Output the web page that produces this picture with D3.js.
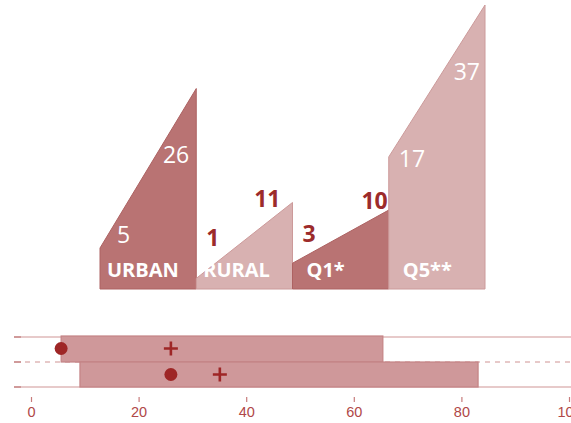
<!DOCTYPE html>
<html><head><meta charset="utf-8">
<script src="https://cdn.jsdelivr.net/npm/d3@7"></script>
<style>html,body{margin:0;padding:0;background:#fff;}svg{display:block;}</style>
</head><body>
<svg id="chart" width="571" height="423"></svg>
<script>
// ---- data ----
const categories = ["URBAN", "RURAL", "Q1*", "Q5**"];
const startValues = [5, 1, 3, 17];
const endValues = [26, 11, 10, 37];
const shadeType = ["dark", "light", "dark", "light"];

const rowNames = ["row1", "row2"];
const boxLow = [5.6, 9.1];
const boxHigh = [65.4, 83.1];
const dotValues = [5.6, 26];
const plusValues = [26, 35.1];
const xTicks = [0, 20, 40, 60, 80, 100];

// ---- styles ----
const fillColor = {dark: "#b97373", light: "#d8b1b1"};
const strokeColor = {dark: "#ad6262", light: "#cc9a9a"};
// label placement relative to trapezoid corners (layout only)
const leftLab = [{dx: 17, fixed: 243}, {dx: 10, fixed: 246}, {dx: 10, fixed: 242}, {dx: 10, dy: 10, fixed: null}];
const rightLab = [{dx: -7, dy: 74}, {dx: -12, dy: 5}, {dx: -1, dy: -1}, {dx: -5, dy: 75}];
const emphasis = [false, true, true, false];

const svg = d3.select("#chart");

// ---- top chart ----
const baseline = 289;
const x = d3.scaleBand().domain(categories).range([100, 485]).padding(0);
const y = d3.scaleLinear().domain([0, 37]).range([286, 5]);

const g = svg.append("g");
categories.forEach((c, i) => {
  const x0 = x(c), x1 = x(c) + x.bandwidth();
  const type = shadeType[i];
  g.append("path")
    .attr("d", d3.line()([[x0, baseline], [x0, y(startValues[i])], [x1, y(endValues[i])], [x1, baseline]]) + "Z")
    .attr("fill", fillColor[type])
    .attr("stroke", strokeColor[type])
    .attr("stroke-width", 1);
});

categories.forEach((c, i) => {
  const x0 = x(c), x1 = x(c) + x.bandwidth();
  const weight = emphasis[i] ? "bold" : "normal";
  const col = emphasis[i] ? "#9c2b2b" : "#ffffff";
  const ll = leftLab[i];
  const ly = ll.fixed != null ? ll.fixed : y(startValues[i]) + ll.dy;
  g.append("text")
    .attr("x", x0 + ll.dx).attr("y", ly)
    .attr("font-family", "'Open Sans', sans-serif")
    .attr("font-size", 23).attr("font-weight", weight)
    .attr("fill", col)
    .text(startValues[i]);
  const rl = rightLab[i];
  g.append("text")
    .attr("x", x1 + rl.dx).attr("y", y(endValues[i]) + rl.dy)
    .attr("text-anchor", "end")
    .attr("font-family", "'Open Sans', sans-serif")
    .attr("font-size", 23).attr("font-weight", weight)
    .attr("fill", col)
    .text(endValues[i]);
  g.append("text")
    .attr("x", x0 + (i < 2 ? 7 : 14)).attr("y", 277)
    .attr("font-family", "'Open Sans', sans-serif")
    .attr("font-size", 20).attr("font-weight", "bold")
    .attr("fill", "#ffffff")
    .text(c);
});

// ---- bottom chart ----
const bx = d3.scaleLinear().domain([0, 100]).range([31, 569]);
const by = d3.scaleBand().domain(rowNames).range([337, 387]).padding(0);
const lineColor = "#dfb8b8";

const b = svg.append("g");
const edges = [337, 362, 387];
b.append("line").attr("x1", 15).attr("x2", 571).attr("y1", edges[0]).attr("y2", edges[0])
  .attr("stroke", lineColor).attr("stroke-width", 1.5);
b.append("line").attr("x1", 15).attr("x2", 571).attr("y1", edges[2]).attr("y2", edges[2])
  .attr("stroke", lineColor).attr("stroke-width", 1.5);
b.append("line").attr("x1", 15).attr("x2", 571).attr("y1", edges[1]).attr("y2", edges[1])
  .attr("stroke", lineColor).attr("stroke-width", 1.5).attr("stroke-dasharray", "5,5");
edges.forEach(e => {
  b.append("line").attr("x1", 14).attr("x2", 21).attr("y1", e).attr("y2", e)
    .attr("stroke", "#d09a9a").attr("stroke-width", 2);
});

rowNames.forEach((r, i) => {
  b.append("rect")
    .attr("x", bx(boxLow[i])).attr("y", by(r) - (i === 0 ? 1 : 0))
    .attr("width", bx(boxHigh[i]) - bx(boxLow[i]))
    .attr("height", by.bandwidth() + (i === 0 ? 1 : 0))
    .attr("fill", "#cf989a").attr("stroke", "#c48385").attr("stroke-width", 1.2);
});
rowNames.forEach((r, i) => {
  const cy = by(r) + by.bandwidth() / 2 - (i === 0 ? 1 : 0);
  b.append("circle").attr("cx", bx(dotValues[i])).attr("cy", cy).attr("r", 6.5)
    .attr("fill", "#9e2626");
  const px = bx(plusValues[i]);
  b.append("path")
    .attr("d", `M${px - 7},${cy}H${px + 7}M${px},${cy - 7}V${cy + 7}`)
    .attr("stroke", "#9e2626").attr("stroke-width", 2.6).attr("fill", "none");
});

// axis
const axis = d3.axisBottom(bx).tickValues(xTicks).tickSize(5).tickPadding(5);
const ax = b.append("g").attr("transform", "translate(0,397)").call(axis);
ax.select(".domain").remove();
ax.selectAll(".tick line").attr("stroke", "#c77c7c").attr("stroke-width", 1.2);
ax.selectAll(".tick text")
  .attr("fill", "#b04848")
  .attr("font-family", "'Liberation Sans', Arial, sans-serif")
  .attr("font-size", 14.5);
</script>
</body></html>
